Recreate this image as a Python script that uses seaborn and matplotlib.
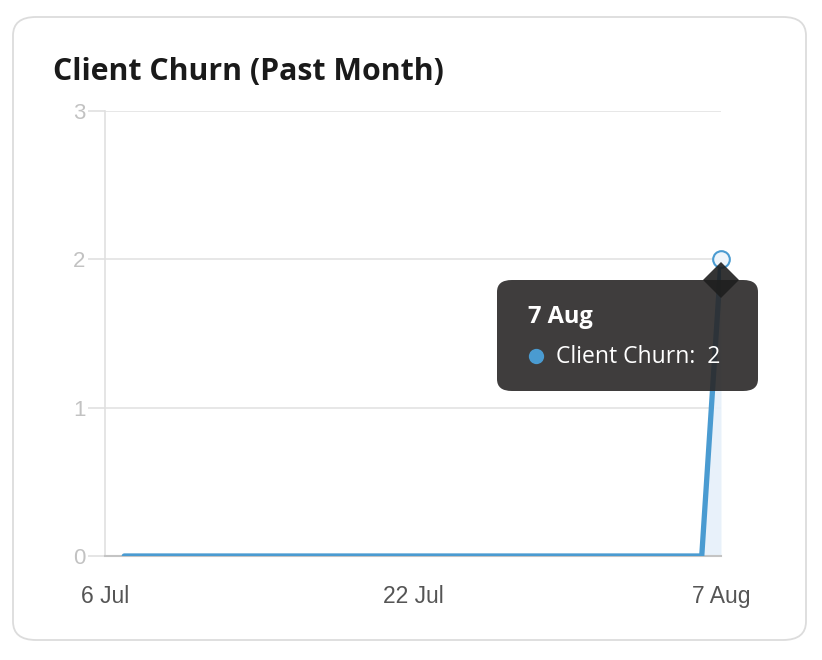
import matplotlib
matplotlib.use("Agg")
import matplotlib.pyplot as plt
from matplotlib.patches import FancyBboxPatch
from matplotlib.lines import Line2D
import seaborn as sns
import pandas as pd

# ---- data ----
dates = pd.date_range("2025-07-07", "2025-08-07", freq="D")
churn = [0] * 31 + [2]
x_ticks = ["2025-07-06", "2025-07-22", "2025-08-07"]
x_tick_labels = ["6 Jul", "22 Jul", "7 Aug"]
y_ticks = [0, 1, 2, 3]
series_name = "Client Churn"
title = "Client Churn (Past Month)"

df = pd.DataFrame({"date": dates, "value": churn})

sns.set_theme(style="white")
plt.rcParams["font.family"] = ["Open Sans", "DejaVu Sans"]

W, H = 822, 660
fig = plt.figure(figsize=(W / 100, H / 100), dpi=100)

# card
card = FancyBboxPatch((13 / W, 1 - 640 / H), (806 - 13) / W, (640 - 17) / H,
                      boxstyle="round,pad=0,rounding_size=0.028",
                      transform=fig.transFigure, facecolor="white",
                      edgecolor="#dcdcdc", linewidth=1.3, zorder=-5)
fig.patches.append(card)

fig.text(53 / W, 1 - 72 / H, title, fontsize=21.8, fontweight="bold",
         color="#1a1a1a", va="center", ha="left")

ax = fig.add_axes([105 / W, 1 - 556 / H, (721 - 105) / W, (556 - 111) / H])
ax.set_facecolor("none")
ax.set_zorder(1)

blue = "#4a9bd1"
ax.fill_between(df["date"], df["value"], 0, color="#e6f0fa", alpha=0.9, zorder=1, linewidth=0)
sns.lineplot(data=df, x="date", y="value", ax=ax, color=blue, linewidth=3.8, zorder=3)

ax.set_xlim(pd.Timestamp(x_ticks[0]), pd.Timestamp(x_ticks[-1]))
ax.set_ylim(0, 3)
ax.set_xticks([pd.Timestamp(t) for t in x_ticks])
ax.set_xticklabels(x_tick_labels)
ax.set_yticks(y_ticks)
ax.set_xlabel("")
ax.set_ylabel("")
ax.grid(axis="y", color="#e3e3e3", linewidth=1.2)
ax.grid(axis="x", visible=False)
for s in ["top", "right"]:
    ax.spines[s].set_visible(False)
ax.spines["left"].set_color("#e0e0e0")
ax.spines["left"].set_linewidth(1.2)
ax.spines["bottom"].set_color("#c4c4c4")
ax.spines["bottom"].set_linewidth(1.5)
ax.tick_params(axis="y", length=12, width=1.2, color="#e0e0e0", labelcolor="#c2c2c2",
               labelsize=16, pad=2, left=True)
ax.tick_params(axis="x", length=0, labelcolor="#555555", labelsize=16.5, pad=21)
for lbl in ax.get_xticklabels() + ax.get_yticklabels():
    lbl.set_fontfamily(["Liberation Sans", "DejaVu Sans"])

# hover point marker
ax.plot([df["date"].iloc[-1]], [df["value"].iloc[-1]], marker="o", markersize=12,
        markerfacecolor="#eef5fb", markeredgecolor=blue, markeredgewidth=1.5,
        zorder=5, clip_on=False)

# tooltip
tip = FancyBboxPatch((497 / W, 1 - 391 / H), (758 - 497) / W, (391 - 280) / H,
                     boxstyle="round,pad=0,rounding_size=0.018",
                     transform=fig.transFigure, facecolor="#2a2828",
                     edgecolor="none", alpha=0.9, zorder=10)
fig.add_artist(tip)
fig.add_artist(plt.Polygon([(721 / W, 1 - 262 / H), (739 / W, 1 - 280 / H),
                            (721 / W, 1 - 298 / H), (703 / W, 1 - 280 / H)],
                           closed=True, transform=fig.transFigure,
                           facecolor="#1e1e1e", edgecolor="none", alpha=0.9, zorder=11))
t1 = fig.text(528 / W, 1 - 317 / H, x_tick_labels[-1], fontsize=17, fontweight="bold",
              color="white", va="center", ha="left")
t1.set_zorder(12)
fig.add_artist(Line2D([536 / W], [1 - 356 / H], marker="o", markersize=11,
                      markerfacecolor=blue, markeredgecolor="none",
                      transform=fig.transFigure, zorder=12))
t2 = fig.text(556 / W, 1 - 357 / H, f"{series_name}:  {churn[-1]}", fontsize=16.5,
              color="white", va="center", ha="left")
t2.set_zorder(12)

fig.savefig("out.png", dpi=100)
